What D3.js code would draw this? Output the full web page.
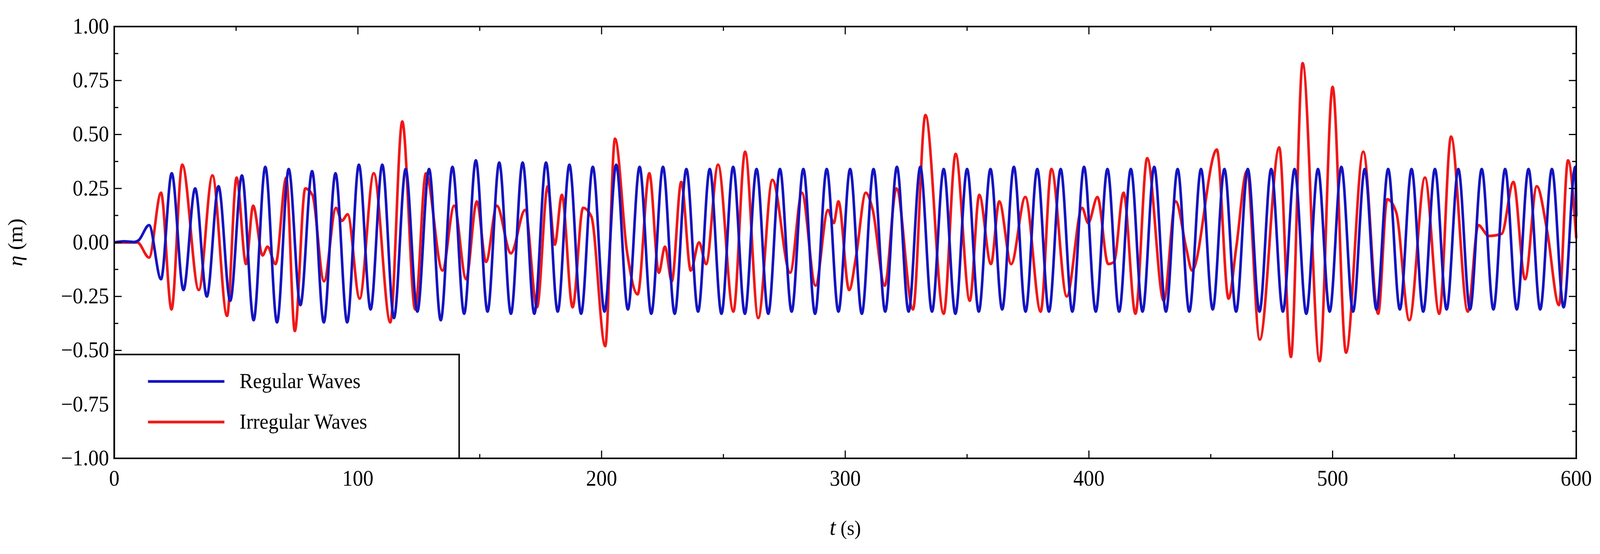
<!DOCTYPE html>
<html><head><meta charset="utf-8">
<script src="https://cdn.jsdelivr.net/npm/d3@7"></script>
<style>html,body{margin:0;padding:0;background:#fff;overflow:hidden}svg{display:block;width:100vw;height:100vh}</style>
</head><body>
<script>
const xTicks=[0,100,200,300,400,500,600];
const yTicks=[-1,-0.75,-0.5,-0.25,0,0.25,0.5,0.75,1];
const seriesNames=["Regular Waves","Irregular Waves"];
// Regular waves: start-up, then crest times/values and trough times/values
const regStartT=[0,4,8,10,14.3,19.2];
const regStartV=[0,0.005,0.002,0.01,0.08,-0.17];
const regCrestT=[23.6,33.2,42.8,52.4,62,71.6,81.2,90.8,100.4,110,119.6,129.2,138.8,148.4,158,167.6,177.2,186.8,196.4,206,215.6,225.2,234.8,244.4,254,263.6,273.2,282.8,292.4,302,311.6,321.2,330.8,340.4,350,359.6,369.2,378.8,388.4,398,407.6,417.2,426.8,436.4,446,455.6,465.2,474.8,484.4,494,503.6,513.2,522.8,532.4,542,551.6,561.2,570.8,580.4,590,599.6];
const regCrestV=[0.32,0.25,0.26,0.31,0.35,0.34,0.33,0.32,0.36,0.36,0.34,0.34,0.35,0.38,0.37,0.37,0.37,0.36,0.35,0.36,0.35,0.35,0.34,0.34,0.35,0.34,0.34,0.34,0.34,0.34,0.34,0.35,0.35,0.34,0.34,0.34,0.35,0.34,0.34,0.35,0.34,0.34,0.35,0.34,0.34,0.34,0.34,0.34,0.34,0.34,0.35,0.34,0.34,0.34,0.34,0.34,0.34,0.34,0.34,0.34,0.35];
const regTroughT=[28.4,38,47.6,57.2,66.8,76.4,86,95.6,105.2,114.8,124.4,134,143.6,153.2,162.8,172.4,182,191.6,201.2,210.8,220.4,230,239.6,249.2,258.8,268.4,278,287.6,297.2,306.8,316.4,326,335.6,345.2,354.8,364.4,374,383.6,393.2,402.8,412.4,422,431.6,441.2,450.8,460.4,470,479.6,489.2,498.8,508.4,518,527.6,537.2,546.8,556.4,566,575.6,585.2,594.8,600];
const regTroughV=[-0.22,-0.25,-0.27,-0.36,-0.37,-0.29,-0.37,-0.37,-0.31,-0.35,-0.32,-0.36,-0.33,-0.32,-0.33,-0.33,-0.32,-0.33,-0.32,-0.31,-0.33,-0.33,-0.32,-0.33,-0.33,-0.33,-0.32,-0.33,-0.32,-0.33,-0.32,-0.32,-0.32,-0.33,-0.32,-0.31,-0.32,-0.32,-0.32,-0.32,-0.32,-0.32,-0.32,-0.32,-0.31,-0.32,-0.32,-0.32,-0.33,-0.32,-0.32,-0.31,-0.31,-0.32,-0.31,-0.31,-0.31,-0.31,-0.31,-0.30,0.12];
// Irregular waves: turning points
const irrT=[0,9.5,14.3,19.2,23.5,27.9,34.7,40.3,46.3,50.2,54.1,57,60.9,62.9,66.2,70.6,74.1,78.4,81.3,86.1,91,93.4,95.8,100.7,106.5,113.3,118.2,123.5,127.9,134.7,139.5,144.4,148.8,152.6,157,162.8,168.6,173.5,177.9,180.8,183.7,188.1,192.4,195.8,201.5,205.5,210.4,214.8,219.6,223.5,226,228.8,232.7,236.6,240,242.9,247.8,254.1,258.9,264.3,270.1,277.4,282.2,287.8,292.9,295.3,297.2,301.6,304.5,308.4,311.3,316.2,321,327.8,332.9,340.4,345.3,351.1,355,359.8,363.2,368.1,373.9,380.2,384.6,390.9,397.2,399.7,403.5,407.9,410.3,414.2,419.1,423.9,430.7,435.6,440,442.3,452.5,457.3,460.5,464.8,470.1,478.1,482.9,487.7,494.7,500,505.5,512.6,518.7,522.4,526.1,531.5,537.9,543.8,548.6,555.5,559.8,564.1,569.4,574.2,579,583.8,588.1,592.9,596.6,600];
const irrV=[0,0,-0.07,0.23,-0.31,0.36,-0.22,0.31,-0.34,0.30,-0.10,0.17,-0.06,-0.02,-0.10,0.30,-0.41,0.25,0.22,-0.18,0.16,0.10,0.13,-0.26,0.32,-0.37,0.56,-0.31,0.32,-0.13,0.17,-0.17,0.19,-0.09,0.17,-0.05,0.15,-0.30,0.26,-0.01,0.22,-0.30,0.16,0.12,-0.48,0.48,-0.04,-0.24,0.32,-0.14,-0.02,-0.18,0.28,-0.13,0.0,-0.10,0.36,-0.32,0.42,-0.35,0.29,-0.14,0.23,-0.20,0.15,0.09,0.19,-0.22,-0.06,0.23,0.15,-0.20,0.25,-0.31,0.59,-0.33,0.41,-0.27,0.22,-0.10,0.19,-0.10,0.21,-0.32,0.34,-0.25,0.16,0.09,0.21,-0.10,-0.09,0.23,-0.33,0.39,-0.27,0.19,-0.03,-0.13,0.43,-0.26,-0.02,0.33,-0.45,0.44,-0.53,0.83,-0.55,0.72,-0.51,0.42,-0.33,0.20,0.14,-0.36,0.30,-0.33,0.49,-0.32,0.08,0.03,0.04,0.28,-0.17,0.26,0.05,-0.29,0.38,0.02];

const W=4314,H=1419;
const m={l:308,r:4250,t:68,b:1174};
const svg=d3.select("body").append("svg").attr("viewBox",`0 0 ${W} ${H}`).attr("preserveAspectRatio","none");
const x=d3.scaleLinear().domain([0,600]).range([m.l,m.r]);
const y=d3.scaleLinear().domain([-1,1]).range([m.b,m.t]);
const font="'Liberation Serif','DejaVu Serif',serif";

const reg=[];
regStartT.forEach((t,i)=>reg.push([t,regStartV[i]]));
regCrestT.forEach((t,i)=>{reg.push([t,regCrestV[i]]);reg.push([regTroughT[i],regTroughV[i]]);});
const irr=irrT.map((t,i)=>[t,irrV[i]]);
const line=d3.line().x(d=>x(d[0])).y(d=>y(d[1])).curve(d3.curveMonotoneX);
const g=svg.append("g");
g.append("path").datum(irr).attr("d",line).attr("fill","none").attr("stroke","#f01818").attr("stroke-width",7);
g.append("path").datum(reg).attr("d",line).attr("fill","none").attr("stroke","#1414c0").attr("stroke-width",7);

const xMinor=d3.range(50,600,100), yMinor=d3.range(-0.875,1,0.25);
function tk(vals,len){
  vals.forEach(v=>{
    svg.append("line").attr("x1",x(v)).attr("x2",x(v)).attr("y1",m.b).attr("y2",m.b-len).attr("stroke","#000").attr("stroke-width",3);
    svg.append("line").attr("x1",x(v)).attr("x2",x(v)).attr("y1",m.t).attr("y2",m.t+len).attr("stroke","#000").attr("stroke-width",3);
  });
}
function tky(vals,len){
  vals.forEach(v=>{
    svg.append("line").attr("y1",y(v)).attr("y2",y(v)).attr("x1",m.l).attr("x2",m.l+len).attr("stroke","#000").attr("stroke-width",3);
    svg.append("line").attr("y1",y(v)).attr("y2",y(v)).attr("x1",m.r).attr("x2",m.r-len).attr("stroke","#000").attr("stroke-width",3);
  });
}
tk(xTicks,20);tk(xMinor,11);tky(yTicks,20);tky(yMinor,11);

const lg=svg.append("g");
lg.append("rect").attr("x",m.l).attr("y",908).attr("width",1238-m.l).attr("height",m.b-908).attr("fill","#fff").attr("stroke","#000").attr("stroke-width",4);
[["#1414c0",977],["#f01818",1081]].forEach((c,i)=>{
  lg.append("line").attr("x1",399).attr("x2",605).attr("y1",c[1]).attr("y2",c[1]).attr("stroke",c[0]).attr("stroke-width",7);
  lg.append("text").attr("x",646).attr("y",c[1]+17).attr("font-family",font).attr("font-size",54).text(seriesNames[i]);
});

svg.append("rect").attr("x",m.l).attr("y",m.t).attr("width",m.r-m.l).attr("height",m.b-m.t).attr("fill","none").attr("stroke","#000").attr("stroke-width",4);

xTicks.forEach(v=>svg.append("text").attr("x",x(v)).attr("y",m.b+70).attr("text-anchor","middle").attr("font-family",font).attr("font-size",56).text(v));
yTicks.forEach(v=>svg.append("text").attr("x",m.l-14).attr("y",y(v)+18).attr("text-anchor","end").attr("font-family",font).attr("font-size",56).text(d3.format(".2f")(v).replace("-","\u2212")));
const xl=svg.append("text").attr("x",(m.l+m.r)/2).attr("y",1370).attr("text-anchor","middle").attr("font-family",font).attr("font-size",60);
xl.append("tspan").attr("font-style","italic").text("t");
xl.append("tspan").attr("font-size",52).text(" (s)");
const yl=svg.append("text").attr("transform",`translate(60,${y(0)}) rotate(-90)`).attr("text-anchor","middle").attr("font-family",font).attr("font-size",56);
yl.append("tspan").attr("font-style","italic").text("η");
yl.append("tspan").text(" (m)");
</script>
</body></html>
